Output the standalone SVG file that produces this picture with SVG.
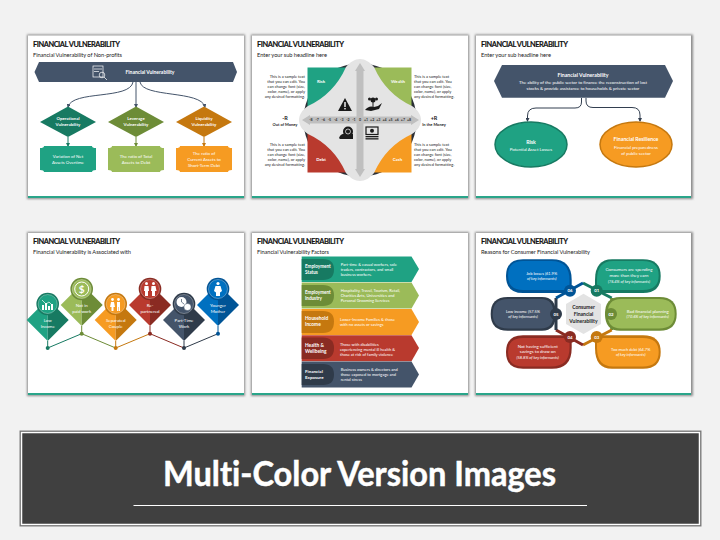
<svg xmlns="http://www.w3.org/2000/svg" width="720" height="540" viewBox="0 0 720 540">
<style>
text{font-family:Lato,"Liberation Sans",sans-serif;font-variant-ligatures:none}
.ttl{font-size:7.4px;font-weight:700;fill:#111;stroke:#111;stroke-width:.12}
.sub{font-size:5.7px;fill:#222}
.w{fill:#fff;text-anchor:middle}
.b{font-weight:700}
.f5{font-size:5px}.f45{font-size:4.4px}.f4{font-size:4px}
.blk{fill:#222}
.r{text-anchor:end}
.m{text-anchor:middle}
.con{fill:none;stroke-width:1}
.seg{fill:none;stroke-width:3}
.slide{fill:#fff}
.shadow{fill:#8c8c8c;filter:url(#blur)}
.bar{fill:#2aa58a}
.ic{fill:#fff}
.icl{fill:none;stroke:#fff;stroke-width:.7}
.k{fill:#1a1a1a}
.num{font-size:3.6px;fill:#333;text-anchor:middle;font-weight:700}
.ci{font-style:italic}
.st{text-anchor:start}
</style>
<defs>
<filter id="blur" x="-5%" y="-5%" width="110%" height="110%"><feGaussianBlur stdDeviation="1.1"/></filter>
<marker id="ah" markerWidth="4" markerHeight="4" refX="3" refY="2" orient="auto"><path d="M0 0L4 2L0 4Z" fill="context-stroke"/></marker>
</defs>
<rect width="720" height="540" fill="#f2f2f2"/>

<g id="slides">
<rect class="shadow" x="27" y="34.5" width="218" height="164.5"/><rect class="slide" x="28" y="35.5" width="216" height="162.5"/><rect class="bar" x="28" y="196" width="216" height="2"/>
<rect class="shadow" x="251" y="34.5" width="218" height="164.5"/><rect class="slide" x="252" y="35.5" width="216" height="162.5"/><rect class="bar" x="252" y="196" width="216" height="2"/>
<rect class="shadow" x="475" y="34.5" width="218" height="164.5"/><rect class="slide" x="476" y="35.5" width="215" height="162.5"/><rect class="bar" x="476" y="196" width="215" height="2"/>
<rect class="shadow" x="27" y="232" width="218" height="164"/><rect class="slide" x="28" y="233" width="216" height="162"/><rect class="bar" x="28" y="393" width="216" height="2"/>
<rect class="shadow" x="251" y="232" width="218" height="164"/><rect class="slide" x="252" y="233" width="216" height="162"/><rect class="bar" x="252" y="393" width="216" height="2"/>
<rect class="shadow" x="475" y="232" width="218" height="164"/><rect class="slide" x="476" y="233" width="215" height="162"/><rect class="bar" x="476" y="393" width="215" height="2"/>
</g>
<g id="titles">
<text class="ttl" x="33" y="47" textLength="87">FINANCIAL VULNERABILITY</text><text class="sub" x="33" y="56.5" textLength="89">Financial Vulnerability of Non-profits</text>
<text class="ttl" x="257" y="47" textLength="87">FINANCIAL VULNERABILITY</text><text class="sub" x="257" y="56.5" textLength="70">Enter your sub headline here</text>
<text class="ttl" x="481" y="47" textLength="87">FINANCIAL VULNERABILITY</text><text class="sub" x="481" y="56.5" textLength="70">Enter your sub headline here</text>
<text class="ttl" x="33" y="244" textLength="87">FINANCIAL VULNERABILITY</text><text class="sub" x="33" y="253.5" textLength="98">Financial Vulnerability is Associated with</text>
<text class="ttl" x="257" y="244" textLength="87">FINANCIAL VULNERABILITY</text><text class="sub" x="257" y="253.5" textLength="72">Financial Vulnerability Factors</text>
<text class="ttl" x="481" y="244" textLength="87">FINANCIAL VULNERABILITY</text><text class="sub" x="481" y="253.5" textLength="109">Reasons for Consumer Financial Vulnerability</text>
</g>

<g id="connectors-1" class="con" stroke="#44546a">
<path d="M133 82C130 100 72 90 68 107" marker-end="url(#ah)"/>
<path d="M136 82V107" marker-end="url(#ah)"/>
<path d="M140 82C143 98 201 90 205 107" marker-end="url(#ah)"/>
<path d="M68 137V146" stroke="#177a62" marker-end="url(#ah)"/>
<path d="M136 137V146" stroke="#6d8c37" marker-end="url(#ah)"/>
<path d="M204 137V146" stroke="#c5780f" marker-end="url(#ah)"/>
</g>
<g id="s1-banner">
<path d="M39 62H233L237 72L233 82H39L34.5 72Z" fill="#44546a"/>
<rect class="icl" x="93" y="66" width="10" height="11"/><path class="icl" d="M94 69H102M94 71.5H99"/><circle class="icl" cx="102" cy="75" r="2.8"/><path class="icl" d="M104 77L107 80"/>
<text class="w b f5" x="150" y="73.8">Financial Vulnerability</text>
</g>
<g id="s1-d1"><path d="M68 106.5L96 122L68 137L40 122Z" fill="#177a62"/><text class="w b f45" x="68" y="119.5">Operational</text><text class="w b f45" x="68" y="125.5">Vulnerability</text></g>
<g id="s1-d2"><path d="M136 106.5L164 122L136 137L108 122Z" fill="#6d8c37"/><text class="w b f45" x="136" y="119.5">Leverage</text><text class="w b f45" x="136" y="125.5">Vulnerability</text></g>
<g id="s1-d3"><path d="M204 106.5L232 122L204 137L176 122Z" fill="#c5780f"/><text class="w b f45" x="204" y="119.5">Liquidity</text><text class="w b f45" x="204" y="125.5">Vulnerability</text></g>
<g id="s1-b1"><path d="M44 146H92Q92 148 96 148V170Q92 170 92 172H44Q44 170 40 170V148Q44 148 44 146Z" fill="#1fa283"/><text class="w f45" x="68" y="157.5">Variation of Net</text><text class="w f45" x="68" y="163.5">Assets Overtime</text></g>
<g id="s1-b2"><path d="M112 146H160Q160 148 164 148V170Q160 170 160 172H112Q112 170 108 170V148Q112 148 112 146Z" fill="#9bbb59"/><text class="w f45" x="136" y="157.5">The ratio of Total</text><text class="w f45" x="136" y="163.5">Assets to Debt</text></g>
<g id="s1-b3"><path d="M180 146H228Q228 148 232 148V170Q228 170 228 172H180Q180 170 176 170V148Q180 148 180 146Z" fill="#f69b22"/><text class="w f45" x="204" y="154.5">The ratio of</text><text class="w f45" x="204" y="160.5">Current Assets to</text><text class="w f45" x="204" y="166.5">Short-Term Debt</text></g>

<g id="s2-matrix">
<circle cx="360" cy="120" r="56.5" fill="#2b2f36"/>
<rect x="307.5" y="67.5" width="52.5" height="52.5" fill="#1fa283"/>
<rect x="360" y="67.5" width="51.5" height="52.5" fill="#9bbb59"/>
<rect x="307.5" y="120" width="52.5" height="52.5" fill="#b93a2e"/>
<rect x="360" y="120" width="51.5" height="52.5" fill="#f69b22"/>
<path d="M374 67Q386 94 412 106C418 110 421 115 421 120C421 125 418 130 412 134Q386 146 374 173C370 178 365 181 360 181C355 181 350 178 346 173Q334 146 308 134C302 130 299 125 299 120C299 115 302 110 308 106Q334 94 346 67C350 62 355 59 360 59C365 59 370 62 374 67Z" fill="#e4e4e4"/>
<path d="M360 63L365 71H363.5V169H365L360 177L355 169H356.5V71H355Z" fill="#bfbfbf"/>
<path d="M302 120L310 115V116.500H411V115L419 120L411 125V123.500H310V125Z" fill="#bfbfbf"/>
</g>
<g id="s2-scale">
<text class="num" x="311" y="121.3">-8</text><text class="num" x="317.2" y="121.3">-7</text><text class="num" x="323.3" y="121.3">-6</text><text class="num" x="329.5" y="121.3">-5</text><text class="num" x="335.6" y="121.3">-4</text><text class="num" x="341.8" y="121.3">-3</text><text class="num" x="347.9" y="121.3">-2</text><text class="num" x="354" y="121.3">-1</text><text class="num" x="360" y="121.3">0</text><text class="num" x="366" y="121.3">+1</text><text class="num" x="372.2" y="121.3">+2</text><text class="num" x="378.3" y="121.3">+3</text><text class="num" x="384.5" y="121.3">+4</text><text class="num" x="390.6" y="121.3">+5</text><text class="num" x="396.8" y="121.3">+6</text><text class="num" x="402.9" y="121.3">+7</text><text class="num" x="409" y="121.3">+8</text>
</g>
<g id="s2-icons">
<path d="M345 98L352 111H338Z" class="k"/><rect x="344.3" y="102" width="1.4" height="5" fill="#fff"/><rect x="344.3" y="108" width="1.4" height="1.4" fill="#fff"/>
<path d="M365 110Q369 105 374 107L378 106L382 103L379 109L371 111Z" class="k"/><circle cx="373" cy="100" r="2.5" class="k"/><circle cx="369.5" cy="99" r="1.5" class="k"/><circle cx="376.5" cy="99" r="1.5" class="k"/><rect x="372.5" y="101" width="1" height="6" class="k"/>
<circle cx="348" cy="131.5" r="5" class="k"/><path d="M339 138Q341 133 346 134H353V139H340Z" class="k"/><circle cx="348" cy="131.5" r="2.5" fill="none" stroke="#fff" stroke-width=".7"/>
<rect x="366" y="127" width="12" height="7.5" fill="none" stroke="#1a1a1a" stroke-width="1.2"/><circle cx="372" cy="130.7" r="2" class="k"/><rect x="365.5" y="136" width="13" height="1.3" class="k"/><rect x="365.5" y="138.2" width="13" height="1.3" class="k"/>
</g>
<g id="s2-labels">
<text class="w b f45" x="321" y="82.5">Risk</text><text class="w b f45" x="398" y="82.5">Wealth</text><text class="w b f45" x="321" y="160.5">Debt</text><text class="w b f45" x="397.5" y="160.5">Cash</text>
<g class="f4 blk">
<text class="r" x="305" y="78">This is a sample text</text><text class="r" x="305" y="83">that you can edit. You</text><text class="r" x="305" y="88">can change font (size,</text><text class="r" x="305" y="93">color, name), or apply</text><text class="r" x="305" y="98">any desired formatting.</text>
<text x="414" y="78">This is a sample text</text><text x="414" y="83">that you can edit. You</text><text x="414" y="88">can change font (size,</text><text x="414" y="93">color, name), or apply</text><text x="414" y="98">any desired formatting.</text>
<text class="r" x="305" y="145.5">This is a sample text</text><text class="r" x="305" y="150.7">that you can edit. You</text><text class="r" x="305" y="155.9">can change font (size,</text><text class="r" x="305" y="161">color, name), or apply</text><text class="r" x="305" y="166">any desired formatting.</text>
<text x="414" y="145.5">This is a sample text</text><text x="414" y="150.7">that you can edit. You</text><text x="414" y="155.9">can change font (size,</text><text x="414" y="161">color, name), or apply</text><text x="414" y="166">any desired formatting.</text>
</g>
<text class="m b blk" font-size="5.5" x="285" y="120">-R</text><text class="m b blk f4" x="285" y="125.5">Out of Money</text>
<text class="m b blk" font-size="5.5" x="434" y="120">+R</text><text class="m b blk f4" x="434" y="125.5">In the Money</text>
</g>

<g id="connectors-3" class="con" stroke="#333f50">
<path d="M581.5 98V102Q581.5 108 575 108H536Q527.5 108 527.5 116V121" marker-end="url(#ah)"/>
<path d="M586 98V101Q586 107.5 593 107.5H632Q640 107.5 640 115V121" marker-end="url(#ah)"/>
</g>
<g id="s3-banner"><path d="M502 65H665L673 81L665 97.7H502L494 81Z" fill="#44546a"/>
<text class="w b" font-size="5.2" x="583" y="76.5">Financial Vulnerability</text>
<text class="w f45" x="583" y="84.2">The ability of the public sector to finance the reconstruction of lost</text>
<text class="w f45" x="583" y="90">stocks &amp; provide assistance to households &amp; private sector</text></g>
<g id="s3-risk"><ellipse cx="531" cy="144.5" rx="36" ry="22.5" fill="#1fa283" stroke="#177a62" stroke-width="1.5"/><text class="w b" font-size="5.2" x="531" y="143.500">Risk</text><text class="w f45" x="531" y="151">Potential Asset Losses</text></g>
<g id="s3-res"><ellipse cx="636" cy="144.5" rx="36" ry="22.5" fill="#f69b22" stroke="#c5780f" stroke-width="1.5"/><text class="w b" font-size="5.2" x="636" y="140.8">Financial Resilience</text><text class="w f45" x="636" y="148.7">Financial preparedness</text><text class="w f45" x="636" y="154.5">of public sector</text></g>

<g id="connectors-4" class="con">
<path d="M47.7 341V348" stroke="#177a62"/><path d="M81.7 326V333.7" stroke="#6d8c37"/><path d="M115.7 341V348" stroke="#c5780f"/><path d="M150 326V333.7" stroke="#8a2b22"/><path d="M184 341V348" stroke="#2f3b4a"/><path d="M218 326V333.7" stroke="#005496"/>
<path d="M47.7 348L81.7 333.7" stroke="#177a62"/><path d="M81.7 333.7L115.7 348" stroke="#6d8c37"/><path d="M115.7 348L150 333.7" stroke="#c5780f"/><path d="M150 333.7L184 348" stroke="#8a2b22"/><path d="M184 348L218 333.7" stroke="#2f3b4a"/>
<circle cx="47.7" cy="348" r="2" fill="#177a62"/><circle cx="81.7" cy="333.7" r="2" fill="#6d8c37"/><circle cx="115.7" cy="348" r="2" fill="#c5780f"/><circle cx="150" cy="333.7" r="2" fill="#8a2b22"/><circle cx="184" cy="348" r="2" fill="#2f3b4a"/><circle cx="218" cy="333.7" r="2" fill="#005496"/>
</g>
<g id="s4-n1"><path d="M47.7 299L26.7 320L47.7 341Z" fill="#1fa283"/><path d="M47.7 299L68.7 320L47.7 341Z" fill="#177a62"/><circle cx="47.7" cy="304" r="11.3" fill="#177a62"/><circle cx="47.7" cy="304" r="9.5" fill="#1fa283" stroke="#fff" stroke-opacity=".5" stroke-width=".6"/>
<path class="ic" d="M42 310V305H44V310ZM45 310V303H47V310ZM48 310V306H50V310ZM51 310V304H53V310Z"/><path class="icl" d="M42 300L46 304L49 302L53 306"/>
<text class="w f45" x="47.7" y="322">Low</text><text class="w f45" x="47.7" y="328">Income</text></g>
<g id="s4-n2"><path d="M81.7 284L60.7 305L81.7 326Z" fill="#9bbb59"/><path d="M81.7 284L102.7 305L81.7 326Z" fill="#6d8c37"/><circle cx="81.7" cy="289" r="11.3" fill="#6d8c37"/><circle cx="81.7" cy="289" r="9.5" fill="#9bbb59" stroke="#fff" stroke-opacity=".5" stroke-width=".6"/>
<circle cx="81.7" cy="289" r="7" fill="none" stroke="#fff" stroke-width="1"/><text class="w b" font-size="10" x="81.7" y="292.6">$</text>
<text class="w f45" x="81.7" y="306.5">Not in</text><text class="w f45" x="81.7" y="312.5">paid work</text></g>
<g id="s4-n3"><path d="M115.7 299L94.7 320L115.7 341Z" fill="#f69b22"/><path d="M115.7 299L136.7 320L115.7 341Z" fill="#c5780f"/><circle cx="115.7" cy="304" r="11.3" fill="#c5780f"/><circle cx="115.7" cy="304" r="9.5" fill="#f69b22" stroke="#fff" stroke-opacity=".5" stroke-width=".6"/>
<circle class="ic" cx="112.5" cy="299.500" r="1.4"/><circle class="ic" cx="118.5" cy="299.500" r="1.4"/><path class="ic" d="M111 302H114L115 307H113.5V311H111.5V307H110ZM117 302H120V311H118.500V307H118V311H117Z"/>
<text class="w f45" x="115.7" y="322">Separated</text><text class="w f45" x="115.7" y="328">Couple</text></g>
<g id="s4-n4"><path d="M150 284L129 305L150 326Z" fill="#b93a2e"/><path d="M150 284L171 305L150 326Z" fill="#8a2b22"/><circle cx="150" cy="289" r="11.3" fill="#8a2b22"/><circle cx="150" cy="289" r="9.5" fill="#b93a2e" stroke="#fff" stroke-opacity=".5" stroke-width=".6"/>
<circle class="ic" cx="146.5" cy="283.5" r="1.5"/><circle class="ic" cx="153.5" cy="283.5" r="1.5"/><path class="ic" d="M144.5 286H148.500L149 291H148V296H145V291H144ZM151.500 286H155.500L156.500 291H155V296H152V291H151Z"/>
<text class="w f45" x="150" y="306.5">Re-</text><text class="w f45" x="150" y="312.5">partnered</text></g>
<g id="s4-n5"><path d="M184 299L163 320L184 341Z" fill="#44546a"/><path d="M184 299L205 320L184 341Z" fill="#2f3b4a"/><circle cx="184" cy="304" r="11.3" fill="#2f3b4a"/><circle cx="184" cy="304" r="9.5" fill="#44546a" stroke="#fff" stroke-opacity=".5" stroke-width=".6"/>
<circle class="ic" cx="181.5" cy="302" r="5"/><path d="M181.5 299V302L184 304" fill="none" stroke="#44546a" stroke-width=".7"/><circle class="ic" cx="187.5" cy="307" r="3.6" stroke="#44546a" stroke-width=".5"/>
<text class="w f45" x="184" y="322">Part-Time</text><text class="w f45" x="184" y="328">Work</text></g>
<g id="s4-n6"><path d="M218 284L197 305L218 326Z" fill="#0070c0"/><path d="M218 284L239 305L218 326Z" fill="#005496"/><circle cx="218" cy="289" r="11.3" fill="#005496"/><circle cx="218" cy="289" r="9.5" fill="#0070c0" stroke="#fff" stroke-opacity=".5" stroke-width=".6"/>
<circle class="ic" cx="218" cy="283.5" r="1.6"/><path class="ic" d="M215.500 286H220.500L222 291L220 292.500V296H216V292.500L214 291Z"/>
<text class="w f45" x="218" y="306.5">Younger</text><text class="w f45" x="218" y="312.5">Mother</text></g>

<g id="s5-r1"><path d="M301.7 256.5H411.5L419 269L411.5 282H301.7Z" fill="#1fa283"/><path d="M301.7 259H323Q334 259 334 269.500Q334 280 323 280H301.7Z" fill="#177a62"/><text class="w b st" font-size="4.6" x="305" y="268">Employment</text><text class="w b st" font-size="4.6" x="305" y="273.8">Status</text>
<g class="f4" fill="#fff"><text x="340.7" y="265.5">Part-time &amp; casual workers, sole</text><text x="340.7" y="270.7">traders, contractors, and small</text><text x="340.7" y="276">business workers.</text></g></g>
<g id="s5-r2"><path d="M301.7 282.5H411.5L419 295.5L411.5 308.5H301.7Z" fill="#9bbb59"/><path d="M301.7 285H323Q334 285 334 295.5Q334 306 323 306H301.7Z" fill="#6d8c37"/><text class="w b st" font-size="4.6" x="305" y="294">Employment</text><text class="w b st" font-size="4.6" x="305" y="300">Industry</text>
<g class="f4" fill="#fff"><text x="340.7" y="291.5">Hospitality, Travel, Tourism, Retail,</text><text x="340.7" y="296.7">Charities Arts, Universities and</text><text x="340.7" y="301.8">Personal Grooming Services</text></g></g>
<g id="s5-r3"><path d="M301.7 309H411.5L419 322L411.5 335H301.7Z" fill="#f69b22"/><path d="M301.7 311H323Q334 311 334 321.5Q334 333 323 333H301.7Z" fill="#c5780f"/><text class="w b st" font-size="4.8" x="305" y="320.3">Household</text><text class="w b st" font-size="4.8" x="305" y="326.3">Income</text>
<g class="f4" fill="#fff"><text x="340" y="320.5">Lower-Income Families &amp; those</text><text x="340" y="325.8">with no assets or savings</text></g></g>
<g id="s5-r4"><path d="M301.7 335.3H411.5L419 348L411.5 361.3H301.7Z" fill="#b93a2e"/><path d="M301.7 337.5H323Q334 337.5 334 348Q334 359 323 359H301.7Z" fill="#8a2b22"/><text class="w b st" font-size="4.8" x="305" y="346.5">Health &amp;</text><text class="w b st" font-size="4.8" x="305" y="352.5">Wellbeing</text>
<g class="f4" fill="#fff"><text x="340" y="345.5">Those with disabilities</text><text x="340" y="350.9">experiencing mental ill health &amp;</text><text x="340" y="356.2">those at risk of family violence</text></g></g>
<g id="s5-r5"><path d="M301.7 361.5H411.5L419 374.5L411.5 387.5H301.7Z" fill="#44546a"/><path d="M301.7 364H323Q334 364 334 374.5Q334 385 323 385H301.7Z" fill="#2f3b4a"/><text class="w b st" font-size="4.5" x="305" y="372.8">Financial</text><text class="w b st" font-size="4.5" x="305" y="378.8">Exposure</text>
<g class="f4" fill="#fff"><text x="340.7" y="370.5">Business owners &amp; directors and</text><text x="340.7" y="375.7">those exposed to mortgage and</text><text x="340.7" y="380.9">rental stress</text></g></g>

<g id="connectors-6">
<path class="seg" d="M583 283L611.7 298" stroke="#177a62"/><path class="seg" d="M611.7 298V330" stroke="#6d8c37"/><path class="seg" d="M611.7 330L583 345" stroke="#c5780f"/><path class="seg" d="M583 345L556 330" stroke="#8a2b22"/><path class="seg" d="M556 330V298" stroke="#2f3b4a"/><path class="seg" d="M556 298L583 283" stroke="#005496"/>
</g>
<g id="s6-center"><path d="M583.5 293.7L601 304V324L583.5 334L566 324V304Z" fill="#e3e3e3"/><g class="m b blk" font-size="5"><text x="583.5" y="309">Consumer</text><text x="583.5" y="315.7">Financial</text><text x="583.5" y="322.5">Vulnerability</text></g></g>
<g id="s6-06"><path d="M523 259.3H552Q571.7 259.3 571.7 280V293H523Q506 293 506 276Q506 259.3 523 259.3Z" fill="#005496"/><path d="M523 261H551.500Q569.500 261 569.500 280V290H523Q508 290 508 275.500Q508 261 523 261Z" fill="#0070c0"/><text class="w f4" x="541.7" y="274.5">Job losses (61.9%</text><text class="w f4 ci" x="541.7" y="280">of key informants)</text><circle cx="570" cy="290.7" r="6" fill="#005496"/><text class="w b f45" x="570" y="292.3">06</text></g>
<g id="s6-01"><path d="M612 259.3H643Q660.7 259.3 660.7 276Q660.7 293 643 293H595V280Q595 259.3 612 259.3Z" fill="#177a62"/><path d="M613 261H643Q658.700 261 658.700 275.500Q658.700 290 643 290H597V280Q597 261 613 261Z" fill="#1fa283"/><text class="w f45" x="629" y="271.3">Consumers are spending</text><text class="w f45" x="629" y="277">more than they earn</text><text class="w f4 ci" x="629" y="282.5">(76.4% of key informants)</text><circle cx="596.7" cy="290.7" r="6" fill="#177a62"/><text class="w b f45" x="596.7" y="292.3">01</text></g>
<g id="s6-05"><path d="M507.7 297H542Q556 297 556 314Q556 330.7 542 330.7H507.7Q490.7 330.7 490.7 314Q490.7 297 507.7 297Z" fill="#2f3b4a"/><path d="M508 299H541Q553.500 299 553.500 314Q553.500 328.500 541 328.500H508Q492.700 328.500 492.700 314Q492.700 299 508 299Z" fill="#44546a"/><text class="w f4" x="523" y="313">Low income (57.5%</text><text class="w f4 ci" x="523" y="318">of key informants)</text><circle cx="556" cy="314" r="6" fill="#2f3b4a"/><text class="w b f45" x="556" y="315.6">05</text></g>
<g id="s6-02"><path d="M620 297H659.7Q676.7 297 676.7 314Q676.7 330.7 659.7 330.7H620Q605 330.7 605 314Q605 297 620 297Z" fill="#6d8c37"/><path d="M621 299H659Q674.700 299 674.700 314Q674.700 328.500 659 328.500H621Q607.500 328.500 607.500 314Q607.500 299 621 299Z" fill="#9bbb59"/><text class="w f45" x="647.7" y="313">Bad financial planning</text><text class="w f4 ci" x="647.7" y="318">(70.6% of key informants)</text><circle cx="611" cy="314" r="6" fill="#6d8c37"/><text class="w b f45" x="611" y="315.6">02</text></g>
<g id="s6-04"><path d="M523 335.3H571.7V348Q571.7 368.7 552 368.7H523Q506 368.7 506 352Q506 335.3 523 335.3Z" fill="#8a2b22"/><path d="M523 338H569.500V348Q569.500 366.500 551 366.500H523Q508 366.500 508 352Q508 338 523 338Z" fill="#b93a2e"/><text class="w f45" x="537.7" y="347.6">Not having sufficient</text><text class="w f45" x="537.7" y="353.3">savings to draw on</text><text class="w f4 ci" x="537.7" y="359">(58.8% of key informants)</text><circle cx="570" cy="337" r="6" fill="#8a2b22"/><text class="w b f45" x="570" y="338.6">04</text></g>
<g id="s6-03"><path d="M595 335.3H643Q660.7 335.3 660.7 352Q660.7 368.7 643 368.7H612Q595 368.7 595 348Z" fill="#c5780f"/><path d="M597 338H643Q658.700 338 658.700 352Q658.700 366.500 643 366.500H613Q597 366.500 597 348Z" fill="#f69b22"/><text class="w f4" x="630.7" y="351">Too much debt (64.7%</text><text class="w f4 ci" x="630.7" y="356">of key informants)</text><circle cx="596.7" cy="337" r="6" fill="#c5780f"/><text class="w b f45" x="596.7" y="338.6">03</text></g>

<g id="footer">
<rect x="20" y="431" width="681" height="95" fill="#404040" stroke="#7f7f7f" stroke-width="1"/>
<rect x="21.5" y="432.5" width="678" height="92" fill="none" stroke="#fff" stroke-width="1.5"/>
<text x="359.5" y="486" font-size="35" font-weight="700" fill="#fff" stroke="#fff" stroke-width=".5" text-anchor="middle" textLength="393" lengthAdjust="spacingAndGlyphs">Multi-Color Version Images</text>
<rect x="133.5" y="505" width="453.5" height="1" fill="#fff"/>
</g>
</svg>
